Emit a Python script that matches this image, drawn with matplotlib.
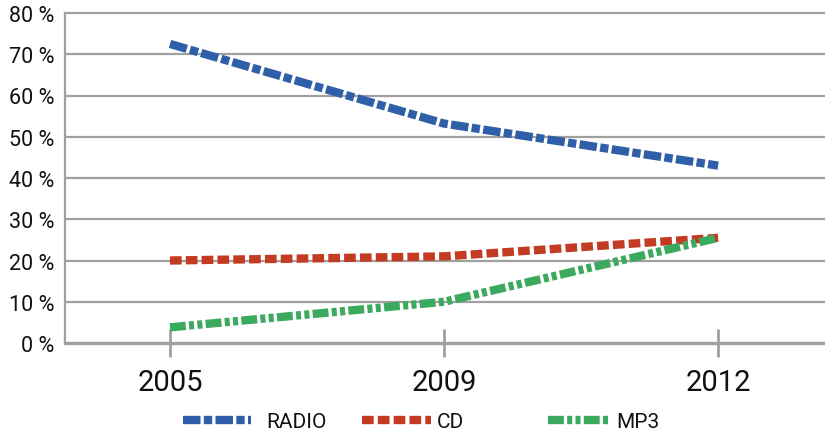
import matplotlib
matplotlib.use("Agg")
import matplotlib.pyplot as plt
from matplotlib.lines import Line2D

years = ["2005", "2009", "2012"]
radio = [72.5, 53.2, 43.0]
cd = [20.0, 21.0, 25.5]
mp3 = [3.8, 10.0, 25.5]
yticks = [0, 10, 20, 30, 40, 50, 60, 70, 80]
ytick_labels = [f"{v} %" for v in yticks]
series_names = ["RADIO", "CD", "MP3"]

plt.rcParams["font.family"] = ["Roboto", "DejaVu Sans"]

W, H = 825, 435
fig = plt.figure(figsize=(W / 100, H / 100), dpi=100)
ax = fig.add_axes([65 / W, (H - 344) / H, (825 - 65) / W, (344 - 14) / H])

x = list(range(len(years)))
lw = 6.0
c_radio = "#2E5FA8"
c_cd = "#C23B22"
c_mp3 = "#3BAA5E"
ls_radio = (0, (2.1, 0.4, 1.0, 0.4))
ls_cd = (0, (1.4, 0.5))
ls_mp3 = (0, (1.9, 0.4, 0.6, 0.4, 0.6, 0.4))

ax.plot(x, radio, color=c_radio, lw=lw, linestyle=ls_radio, dash_capstyle="butt", zorder=3)
ax.plot(x, cd, color=c_cd, lw=lw, linestyle=ls_cd, dash_capstyle="butt", zorder=3)
ax.plot(x, mp3, color=c_mp3, lw=lw, linestyle=ls_mp3, dash_capstyle="butt", zorder=4)

ax.set_xlim(-0.383, 2.39)
ax.set_ylim(0, 80)
ax.set_yticks(yticks)
ax.set_yticklabels(ytick_labels, fontsize=15.5)
ax.set_xticks(x)
ax.set_xticklabels(years, fontsize=21)

grid_c = "#A0A0A0"
for v in yticks[1:]:
    ax.axhline(v, color=grid_c, lw=1.6, zorder=1, clip_on=False)

for s in ["top", "right"]:
    ax.spines[s].set_visible(False)
ax.spines["left"].set_color(grid_c)
ax.spines["left"].set_linewidth(1.6)
ax.spines["bottom"].set_color(grid_c)
ax.spines["bottom"].set_linewidth(2.4)

ax.tick_params(axis="y", length=0, pad=8, labelcolor="#111111")
ax.tick_params(axis="x", direction="inout", length=20, width=2, color=grid_c, pad=8, labelcolor="#111111")

styles = [(c_radio, ls_radio), (c_cd, ls_cd), (c_mp3, ls_mp3)]
starts = [183, 362, 548]
hlens = [3.25, 3.3, 2.95]
tpads = [0.75, 0.3, 0.35]
for (c, ls), name, sx, hl, tp in zip(styles, series_names, starts, hlens, tpads):
    h = Line2D([0], [0], color=c, lw=lw, linestyle=ls, dash_capstyle="butt")
    leg = fig.legend([h], [name], loc="center left", bbox_to_anchor=(sx / W, (H - 423) / H),
                     frameon=False, fontsize=15, handlelength=hl, handletextpad=tp,
                     borderpad=0, borderaxespad=0)
    for t in leg.get_texts():
        t.set_color("#111111")

fig.savefig("out.png", dpi=100)
